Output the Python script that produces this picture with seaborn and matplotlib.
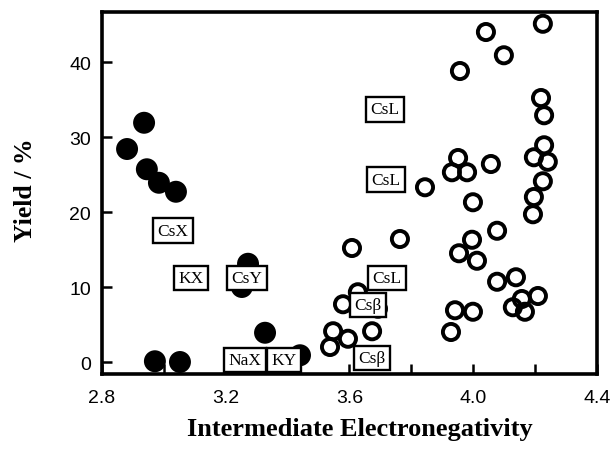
import numpy as np
import pandas as pd
import matplotlib
matplotlib.use("Agg")
import matplotlib.pyplot as plt
import seaborn as sns

# Filled circles (zeolites)
filled_x = [2.881, 2.936, 2.945, 2.984, 3.039, 2.971, 3.052, 3.272, 3.252, 3.084, 3.327, 3.440]
filled_y = [28.4, 31.9, 25.7, 23.9, 22.7, 0.1, 0.0, 13.1, 10.0, 11.0, 3.9, 0.9]

# Open circles
open_x = [4.041, 4.225, 4.099, 3.957, 4.219, 4.229, 4.229, 4.196, 4.241, 3.951,
          3.931, 3.980, 4.057, 4.225, 3.844, 3.999, 4.196, 4.193, 4.077, 3.996,
          3.954, 4.012, 4.138, 4.077, 4.209, 4.157, 4.128, 4.167, 3.941, 3.999,
          3.928, 3.763, 3.608, 3.627, 3.579, 3.692, 3.673, 3.547, 3.537, 3.595]
open_y = [44.0, 45.1, 40.9, 38.8, 35.2, 32.9, 28.9, 27.3, 26.7, 27.2,
          25.3, 25.3, 26.4, 24.1, 23.3, 21.3, 22.0, 19.7, 17.5, 16.3,
          14.5, 13.5, 11.3, 10.7, 8.8, 8.4, 7.3, 6.7, 6.9, 6.7,
          4.0, 16.4, 15.2, 9.3, 7.7, 7.1, 4.1, 4.1, 2.0, 3.1]

# Box labels
label_text = ["CsX", "KX", "CsY", "NaX", "KY", "CsL", "CsL", "CsL", "Csβ", "Csβ"]
label_x = [3.029, 3.088, 3.269, 3.262, 3.388, 3.715, 3.718, 3.721, 3.660, 3.673]
label_y = [17.5, 11.2, 11.2, 0.27, 0.27, 33.7, 24.3, 11.2, 7.6, 0.53]

x_ticks = [2.8, 3.2, 3.6, 4.0, 4.4]
x_minor = [3.0, 3.4, 3.8, 4.2]
y_ticks = [0, 10, 20, 30, 40]

sns.set_theme(style="ticks")
plt.rcParams["font.family"] = ["Liberation Sans", "DejaVu Sans"]
plt.rcParams["text.color"] = "black"
plt.rcParams["axes.labelcolor"] = "black"

fig = plt.figure(figsize=(6.12, 4.52), dpi=100)
ax = fig.add_axes([102 / 612, 1 - 375 / 452, 495 / 612, 362 / 452])

df_f = pd.DataFrame({"x": filled_x, "y": filled_y})
df_o = pd.DataFrame({"x": open_x, "y": open_y})

sns.scatterplot(data=df_f, x="x", y="y", ax=ax, s=250, color="black",
                edgecolor="none", linewidth=0, zorder=3, legend=False)
sns.scatterplot(data=df_o, x="x", y="y", ax=ax, s=135, facecolor="none",
                edgecolor="black", linewidth=2.8, zorder=3, legend=False)

for t, x, y in zip(label_text, label_x, label_y):
    ax.text(x, y, t, ha="center", va="center", fontsize=12.5, color="black",
            family=["Liberation Serif", "DejaVu Serif"], zorder=5,
            bbox=dict(boxstyle="square,pad=0.25", fc="white", ec="black", lw=1.7))

ax.set_xlim(2.8, 4.4)
ax.set_ylim(-1.6, 46.67)
ax.set_xticks(x_ticks)
ax.set_xticklabels([f"{v:.1f}" for v in x_ticks])
ax.set_xticks(x_minor, minor=True)
ax.set_yticks(y_ticks)
ax.set_yticklabels([str(v) for v in y_ticks])
ax.tick_params(which="both", direction="in", top=False, right=False,
               length=7, width=1.8, color="black", labelsize=14,
               labelcolor="black")
ax.tick_params(axis="x", pad=11)
ax.tick_params(axis="y", pad=8)

for sp in ax.spines.values():
    sp.set_linewidth(2.6)
    sp.set_color("black")
    sp.set_visible(True)

ax.set_xlabel("Intermediate Electronegativity", fontsize=19, fontweight="bold",
              family=["Liberation Serif", "DejaVu Serif"], color="black")
ax.set_ylabel("Yield / %", fontsize=18.5, fontweight="bold",
              family=["Liberation Serif", "DejaVu Serif"], color="black")
ax.xaxis.set_label_coords(0.52, -0.12)
ax.yaxis.set_label_coords(-0.132, 0.51)
ax.xaxis.label.set_va("top")
ax.set_facecolor("white")
fig.patch.set_facecolor("white")

fig.savefig("out.png", dpi=100)
